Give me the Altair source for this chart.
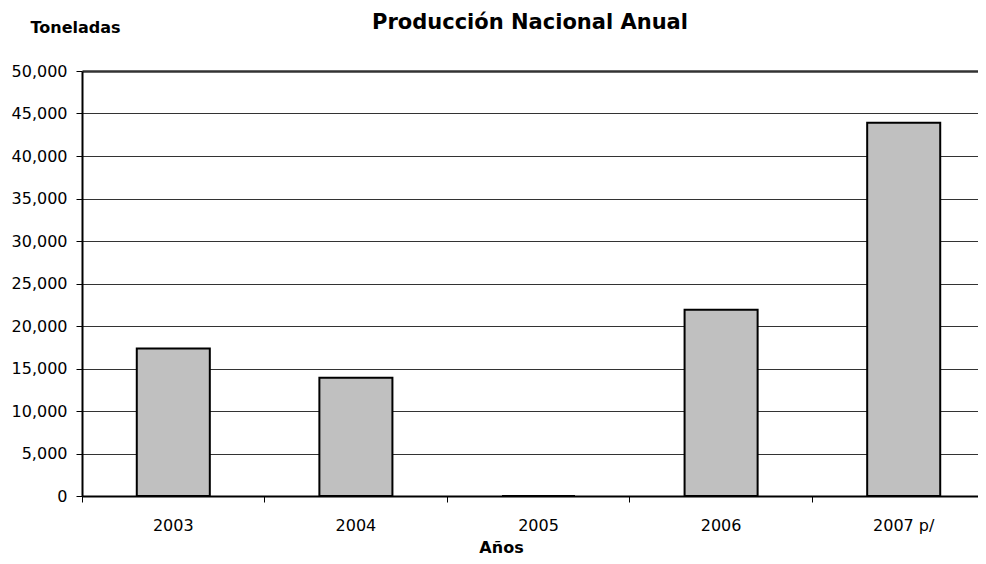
import altair as alt
import pandas as pd

years = ["2003", "2004", "2005", "2006", "2007 p/"]
toneladas = [17350, 13900, 0, 21900, 43900]
y_ticks = [0, 5000, 10000, 15000, 20000, 25000, 30000, 35000, 40000, 45000, 50000]

df = pd.DataFrame({"year": years, "value": toneladas})

FONT = "DejaVu Sans"
x_scale = alt.Scale(domain=years, range=[0, 913], paddingInner=0, paddingOuter=0)
y_scale = alt.Scale(domain=[0, 50000], nice=False)

base = alt.Chart(df)

bars = base.mark_bar(
    width=alt.RelativeBandSize(0.4), color="#C0C0C0", stroke="black", strokeWidth=2
).encode(
    x=alt.X("year:N", scale=x_scale, sort=years, axis=alt.Axis(
        orient="bottom",
        title="Años", titleX=419, titleY=51, titleFont=FONT, titleFontSize=16,
        titleFontWeight="bold", titleBaseline="middle", titleAlign="center", titleColor="black",
        labelAngle=0, labelFont=FONT, labelFontSize=16, labelColor="black", labelPadding=21,
        ticks=False, domain=False, grid=False)),
    y=alt.Y("value:Q", scale=y_scale, axis=alt.Axis(
        values=y_ticks, format=",.0f", grid=True, gridColor="#333333",
        gridWidth={"condition": {"test": "datum.value === 50000", "value": 2.5}, "value": 1},
        domain=True, domainColor="black", domainWidth=2,
        ticks=True, tickColor="black", tickSize=6, tickWidth=1,
        labelFont=FONT, labelFontSize=16, labelColor="black", labelPadding=9,
        title="Toneladas", titleAngle=0, titleX=-7, titleY=-44, titleAlign="center",
        titleBaseline="middle", titleFont=FONT, titleFontSize=16, titleFontWeight="bold",
        titleColor="black")),
)

ticks_layer = base.mark_point(opacity=0).encode(
    x=alt.X("year:N", scale=x_scale, sort=years, axis=alt.Axis(
        orient="bottom",
        title=None, labels=False, grid=False, ticks=True, bandPosition=0,
        tickColor="black", tickSize=6, tickWidth=1,
        domain=True, domainColor="black", domainWidth=2)),
)

chart = alt.layer(bars, ticks_layer).resolve_axis(x="independent").properties(
    width=896, height=425,
    autosize=alt.AutoSizeParams(type="none"),
    padding={"left": 74, "top": 63, "right": 0, "bottom": 60},
    title=alt.Title("Producción Nacional Anual", font=FONT, fontSize=21,
                    fontWeight="bold", anchor="middle", color="black", dy=18),
).configure_view(stroke=None).configure(background="white")

chart.save("out.html", embed_options={"renderer": "svg", "actions": False})
